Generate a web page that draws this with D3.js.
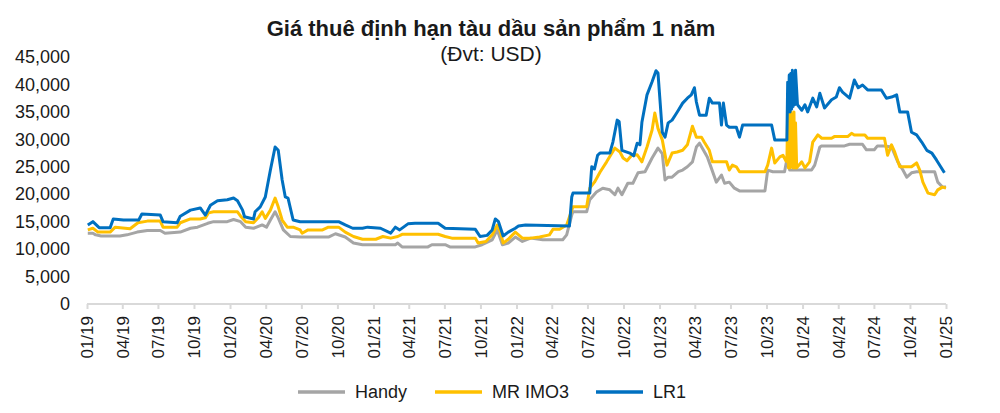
<!DOCTYPE html>
<html>
<head>
<meta charset="utf-8">
<script src="https://cdn.jsdelivr.net/npm/d3@7"></script>
<style>
  body { margin: 0; background: #fff; }
  svg { font-family: "Liberation Sans", Arial, sans-serif; }
</style>
</head>
<body>
<svg></svg>
<script>
// Chart size
let width = 1000,
    height = 413;

// Axis ticks
let xTickLabels = ["01/19","04/19","07/19","10/19","01/20","04/20","07/20","10/20",
    "01/21","04/21","07/21","10/21","01/22","04/22","07/22","10/22",
    "01/23","04/23","07/23","10/23","01/24","04/24","07/24","10/24","01/25"];
let yTicks = [0, 5000, 10000, 15000, 20000, 25000, 30000, 35000, 40000, 45000];

let seriesNames = ["Handy", "MR IMO3", "LR1"];
let seriesColors = ["#a5a5a5", "#ffc000", "#0070c0"];

// Handy
let handyDates = ["2019-01-03","2019-01-16","2019-01-23","2019-02-06","2019-03-26","2019-04-13","2019-05-09","2019-06-04","2019-07-07","2019-07-19",
    "2019-08-27","2019-09-22","2019-10-10","2019-11-05","2019-11-20","2019-12-25","2020-01-10","2020-01-28","2020-02-10","2020-03-01",
    "2020-03-23","2020-04-03","2020-04-13","2020-04-25","2020-05-03","2020-05-16","2020-06-03","2020-06-28","2020-09-08","2020-09-26",
    "2020-10-21","2020-11-11","2020-12-04","2021-02-26","2021-03-04","2021-03-15","2021-05-20","2021-05-30","2021-07-03","2021-07-15",
    "2021-09-18","2021-10-05","2021-10-31","2021-11-13","2021-11-26","2021-12-11","2021-12-29","2022-01-16","2022-02-06","2022-03-09",
    "2022-04-29","2022-05-09","2022-05-22","2022-05-25","2022-06-29","2022-07-07","2022-07-24","2022-08-09","2022-08-27","2022-09-09",
    "2022-09-17","2022-09-27","2022-10-12","2022-10-25","2022-11-07","2022-11-25","2022-12-13","2022-12-28","2023-01-08","2023-01-15",
    "2023-01-23","2023-02-02","2023-02-18","2023-03-01","2023-03-13","2023-03-26","2023-04-05","2023-04-13","2023-04-21","2023-05-03",
    "2023-05-13","2023-05-26","2023-06-08","2023-06-16","2023-06-28","2023-07-11","2023-07-24","2023-09-27","2023-10-04","2023-10-17",
    "2023-11-16","2023-11-24","2023-11-29","2023-12-30","2024-01-24","2024-02-01","2024-02-14","2024-02-19","2024-04-17","2024-04-30",
    "2024-06-02","2024-06-12","2024-07-02","2024-07-10","2024-07-28","2024-08-15","2024-08-31","2024-09-13","2024-09-23","2024-10-05",
    "2024-10-18","2024-12-03","2024-12-11","2024-12-23","2025-01-01"];
let handyValues = [12900,12900,12600,12400,12400,12600,13100,13400,13400,12900,
    13100,13800,14000,14700,15000,15000,15400,15000,14000,13800,
    14400,14000,15300,16800,15700,13500,12300,12200,12200,12800,
    12200,11100,10800,10800,11100,10400,10400,10800,10800,10400,
    10400,10800,11700,13500,10800,11100,12200,11400,12000,11700,
    11700,12600,16200,16800,16800,19000,20400,21100,20800,19900,
    21100,19900,22000,22000,23900,24100,26600,28400,27400,22600,
    23100,23100,24100,24400,25000,25900,28600,29300,28300,26800,
    24800,22200,23500,22000,22200,21100,20600,20600,24400,24100,
    24100,27100,24400,24400,24400,25300,28600,28800,28800,29100,
    29100,28100,28100,28800,28800,28600,25900,24400,23100,23900,
    24100,24100,22200,21300,21300];

// MR IMO3
let mrDates = ["2019-01-03","2019-01-16","2019-01-29","2019-03-01","2019-03-14","2019-04-21","2019-05-11","2019-06-04","2019-07-07","2019-07-14",
    "2019-08-19","2019-08-27","2019-09-22","2019-10-17","2019-10-30","2019-11-07","2019-11-20","2020-01-20","2020-01-28","2020-02-10",
    "2020-03-01","2020-03-13","2020-03-23","2020-03-31","2020-04-13","2020-04-25","2020-05-03","2020-05-13","2020-05-26","2020-06-10",
    "2020-06-28","2020-07-03","2020-07-18","2020-08-24","2020-09-08","2020-10-04","2020-10-21","2020-11-11","2020-12-04","2021-01-07",
    "2021-01-25","2021-02-14","2021-03-04","2021-03-15","2021-06-15","2021-07-03","2021-07-20","2021-09-18","2021-09-25","2021-10-15",
    "2021-10-31","2021-11-13","2021-11-21","2021-11-28","2021-12-11","2021-12-29","2022-01-16","2022-02-06","2022-03-01","2022-03-26",
    "2022-04-04","2022-04-21","2022-05-09","2022-05-22","2022-05-25","2022-06-29","2022-07-07","2022-07-19","2022-08-02","2022-08-19",
    "2022-09-09","2022-09-22","2022-09-30","2022-10-10","2022-10-22","2022-11-05","2022-11-17","2022-11-30","2022-12-13","2022-12-20",
    "2022-12-28","2023-01-08","2023-01-20","2023-02-02","2023-02-15","2023-03-01","2023-03-13","2023-03-26","2023-04-05","2023-04-18",
    "2023-04-25","2023-05-08","2023-05-16","2023-06-21","2023-06-28","2023-07-06","2023-07-16","2023-07-24","2023-09-27","2023-10-04",
    "2023-10-14","2023-10-22","2023-11-04","2023-11-12","2023-11-20","2023-11-22","2023-11-24","2023-11-26","2023-11-28","2023-11-30",
    "2023-12-02","2023-12-04","2023-12-06","2023-12-08","2023-12-10","2023-12-12","2023-12-14","2023-12-17","2023-12-30","2024-01-07",
    "2024-01-19","2024-01-27","2024-02-09","2024-02-19","2024-03-15","2024-03-22","2024-04-25","2024-05-05","2024-05-12","2024-06-08",
    "2024-06-15","2024-07-28","2024-08-05","2024-08-15","2024-08-23","2024-09-05","2024-10-05","2024-10-18","2024-10-26","2024-11-03",
    "2024-11-16","2024-12-03","2024-12-11","2024-12-23","2025-01-01"];
let mrValues = [13500,13800,13100,13100,14000,13700,14800,15100,15100,14000,
    14000,14800,15500,15500,15700,16600,16800,16800,16000,15000,
    14800,15700,16800,15600,17100,19300,17700,15300,14000,14000,
    13500,12900,13500,13500,14000,14000,13100,12300,11800,11800,
    12300,12000,12300,12700,12700,12300,12000,12000,11100,11400,
    12600,14400,13100,11100,11800,13100,12000,12000,12200,12600,
    13600,13600,14400,17100,17700,17700,21100,22200,24000,25900,
    28400,27700,26600,26100,27100,27200,25900,28600,31700,34800,
    32000,29900,25300,27500,27700,28000,29000,32400,30400,30400,
    29500,28000,25900,25900,24400,25300,25000,24100,24100,25300,
    28400,25700,26800,27100,26000,26000,35000,24800,35000,24800,
    35000,25000,34500,24800,35000,24800,33000,24800,25900,24800,
    25900,29500,30800,30200,30200,30500,30500,31100,30800,30800,
    30200,30200,27100,29000,27700,25000,25000,25700,24400,22200,
    20200,19900,20800,21300,21100];

// LR1
let lrDates = ["2019-01-03","2019-01-16","2019-02-01","2019-03-01","2019-03-09","2019-04-04","2019-05-13","2019-05-21","2019-07-07","2019-07-14",
    "2019-08-19","2019-08-27","2019-09-22","2019-10-17","2019-10-30","2019-11-12","2019-11-30","2019-12-25","2020-01-10","2020-01-20",
    "2020-02-02","2020-02-07","2020-03-01","2020-03-05","2020-03-18","2020-03-31","2020-04-13","2020-04-25","2020-05-03","2020-05-13",
    "2020-05-21","2020-05-28","2020-06-10","2020-06-28","2020-10-04","2020-10-21","2020-11-09","2020-12-04","2020-12-17","2021-01-19",
    "2021-02-14","2021-02-26","2021-03-09","2021-03-30","2021-04-17","2021-06-15","2021-07-03","2021-09-18","2021-09-30","2021-10-18",
    "2021-10-31","2021-11-08","2021-11-16","2021-11-28","2021-12-11","2021-12-29","2022-01-06","2022-01-24","2022-05-16","2022-05-22",
    "2022-05-25","2022-07-07","2022-07-12","2022-07-19","2022-07-27","2022-08-02","2022-08-27","2022-09-04","2022-09-15","2022-09-20",
    "2022-09-27","2022-10-17","2022-10-27","2022-11-05","2022-11-12","2022-11-17","2022-11-30","2022-12-13","2022-12-23","2022-12-28",
    "2023-01-03","2023-01-08","2023-01-15","2023-01-23","2023-02-02","2023-02-10","2023-02-18","2023-03-01","2023-03-13","2023-03-23",
    "2023-03-31","2023-04-05","2023-04-13","2023-04-30","2023-05-08","2023-05-16","2023-06-03","2023-06-08","2023-06-13","2023-06-21",
    "2023-06-28","2023-07-16","2023-07-24","2023-08-01","2023-10-14","2023-10-22","2023-11-20","2023-11-22","2023-11-24","2023-11-26",
    "2023-11-28","2023-11-30","2023-12-02","2023-12-04","2023-12-06","2023-12-08","2023-12-10","2023-12-12","2023-12-14","2023-12-19",
    "2023-12-30","2024-01-07","2024-01-14","2024-01-27","2024-02-06","2024-02-14","2024-02-26","2024-03-15","2024-03-27","2024-04-04",
    "2024-04-12","2024-04-30","2024-05-12","2024-05-22","2024-06-02","2024-06-15","2024-07-20","2024-08-02","2024-08-15","2024-08-28",
    "2024-09-05","2024-09-25","2024-10-05","2024-10-18","2024-10-31","2024-11-13","2024-11-26","2024-12-08","2024-12-28"];
let lrValues = [14400,15000,13900,13900,15500,15300,15300,16400,16200,15000,
    14800,16000,17100,17500,16200,18000,18800,19000,19300,18800,
    17100,15900,15500,16800,17700,19500,24400,28600,28000,22600,
    19500,19300,15300,15000,15000,14400,13800,13800,14000,13800,
    12900,14000,13500,14600,14700,14700,13800,13600,12300,12500,
    13500,15500,15000,12400,13100,13800,14200,14400,14200,19500,
    20200,20200,25000,24600,27100,27500,27500,29500,33500,33200,
    28000,27500,27000,29300,29000,33100,38100,40500,42500,42100,
    36300,31300,30400,33000,33500,34400,35300,36600,37500,38100,
    39400,36800,34400,34400,37500,36600,36600,32600,36600,32600,
    32200,32200,30400,32600,32600,29900,29900,29900,40400,35000,
    41700,35000,42000,35500,42600,36000,41000,36300,42600,36300,
    35300,36300,35000,37500,35900,38400,35700,37200,37700,39400,
    38600,37500,40800,39400,39900,39000,39000,37500,37700,38100,
    35000,35000,31300,30800,29500,28000,27500,26200,23900];

let parseDate = d3.timeParse("%Y-%m-%d");

let svg = d3.select("svg")
    .attr("width", width)
    .attr("height", height);

// Scales
let x = d3.scaleTime()
    .domain([new Date(2019, 0, 1), new Date(2025, 0, 1)])
    .range([87, 946]);

let y = d3.scaleLinear()
    .domain([0, 45000])
    .range([304, 57]);

// Title
svg.append("text")
    .attr("x", 491)
    .attr("y", 36)
    .attr("text-anchor", "middle")
    .style("font-size", "22px")
    .style("font-weight", "bold")
    .style("fill", "#1a1a1a")
    .text("Giá thuê định hạn tàu dầu sản phẩm 1 năm");

svg.append("text")
    .attr("x", 491)
    .attr("y", 61)
    .attr("text-anchor", "middle")
    .style("font-size", "21px")
    .style("fill", "#1a1a1a")
    .text("(Đvt: USD)");

// Y axis labels only, no line
let yAxis = svg.append("g")
    .attr("transform", "translate(70,0)")
    .call(d3.axisLeft(y).tickValues(yTicks).tickSize(0).tickPadding(0)
        .tickFormat(d3.format(",")));
yAxis.select(".domain").remove();
yAxis.selectAll("text")
    .style("font-size", "18px")
    .style("font-family", "Liberation Sans, Arial, sans-serif")
    .style("fill", "#1a1a1a");

// X axis, quarterly ticks
let xTicks = xTickLabels.map(function(d) {
    let parts = d.split("/");
    return new Date(2000 + +parts[1], +parts[0] - 1, 1);
});

let xAxis = svg.append("g")
    .attr("transform", "translate(0,304)")
    .call(d3.axisBottom(x).tickValues(xTicks).tickSize(5)
        .tickFormat(function(d, i) { return xTickLabels[i]; }));
xAxis.select(".domain")
    .attr("d", "M" + x.range()[0] + ",0H" + x.range()[1])
    .style("stroke", "#d9d9d9")
    .style("stroke-width", "2px");
xAxis.selectAll(".tick line")
    .style("stroke", "#d9d9d9")
    .style("stroke-width", "2px");
xAxis.selectAll("text")
    .attr("transform", "rotate(-90)")
    .attr("x", -12)
    .attr("y", 0)
    .attr("dy", "0.35em")
    .attr("text-anchor", "end")
    .style("font-size", "17px")
    .style("font-family", "Liberation Sans, Arial, sans-serif")
    .style("fill", "#1a1a1a");

// Lines
let series = [
    {name: seriesNames[0], color: seriesColors[0], dates: handyDates, values: handyValues},
    {name: seriesNames[1], color: seriesColors[1], dates: mrDates, values: mrValues},
    {name: seriesNames[2], color: seriesColors[2], dates: lrDates, values: lrValues}
];

let line = d3.line()
    .x(function(d) { return x(d.date); })
    .y(function(d) { return y(d.value); });

svg.append("g")
    .selectAll("path")
    .data(series)
    .enter()
    .append("path")
    .attr("d", function(s) {
        return line(s.dates.map(function(d, i) {
            return {date: parseDate(d), value: s.values[i]};
        }));
    })
    .style("fill", "none")
    .style("stroke", function(s) { return s.color; })
    .style("stroke-width", "3px")
    .style("stroke-linejoin", "round");

// Legend
let legendX = [298, 435, 596];
let legend = svg.append("g")
    .selectAll("g")
    .data(series)
    .enter()
    .append("g")
    .attr("transform", function(d, i) { return "translate(" + legendX[i] + ",392)"; });

legend.append("line")
    .attr("x1", 0)
    .attr("x2", 47)
    .style("stroke", function(d) { return d.color; })
    .style("stroke-width", "3.5px");

legend.append("text")
    .attr("x", 57)
    .attr("dy", "0.35em")
    .style("font-size", "18px")
    .style("fill", "#1a1a1a")
    .text(function(d) { return d.name; });
</script>
</body>
</html>
